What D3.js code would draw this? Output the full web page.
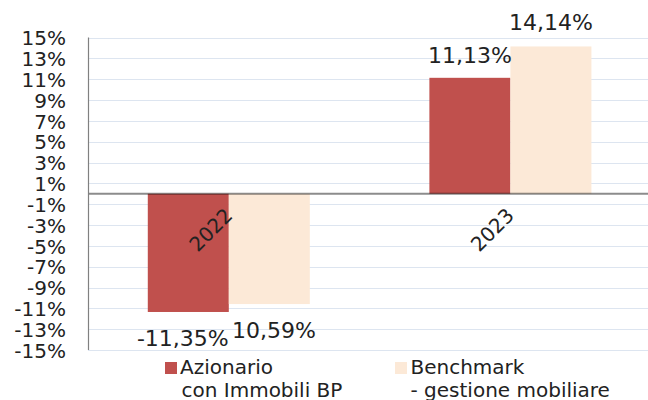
<!DOCTYPE html>
<html><head><meta charset="utf-8">
<script src="https://cdn.jsdelivr.net/npm/d3@7"></script>
<style>body{margin:0;background:#fff}svg{display:block}text{font-family:"DejaVu Sans",Verdana,sans-serif;fill:#222}</style>
</head><body><svg id="c" width="648" height="400"></svg>
<script>
const categories = ["2022", "2023"];
const seriesNames = ["Azionario\ncon Immobili BP", "Benchmark\n- gestione mobiliare"];
const azionario = [-11.35, 11.13];
const benchmark = [-10.59, 14.14];
const tickValues = [-15,-13,-11,-9,-7,-5,-3,-1,1,3,5,7,9,11,13,15];
const colors = ["#C0504D", "#FCE9D7"];

const svg = d3.select("#c");
const x0 = 88, x1 = 651.2, yTop = 37.5, yBot = 350;
const y = d3.scaleLinear().domain([-15, 15]).range([yBot, yTop]);
const xb = d3.scaleBand().domain(categories).range([x0, x1]).paddingInner(0).paddingOuter(0);
const xs = d3.scaleBand().domain([0,1]).range([0, xb.bandwidth()]).paddingOuter(0.738).paddingInner(0);

// gridlines
svg.append("g").selectAll("line").data(tickValues).join("line")
  .attr("x1", x0).attr("x2", 648).attr("y1", d => Math.round(y(d)) + 0.5).attr("y2", d => Math.round(y(d)) + 0.5)
  .attr("stroke", "#dde5f0").attr("stroke-width", 1);

// y axis labels
const yAxis = d3.axisLeft(y).tickValues(tickValues).tickSize(0).tickPadding(0).tickFormat(d => d + "%");
const ga = svg.append("g").attr("transform", `translate(66,0)`).call(yAxis);
ga.select(".domain").remove();
ga.selectAll("text").attr("font-size", 20).attr("dy", "0.36em").style("font-family", '"DejaVu Sans",Verdana,sans-serif').attr("fill", "#222");

// bars
const series = [azionario, benchmark];
series.forEach((vals, si) => {
  svg.append("g").selectAll("rect").data(categories).join("rect")
    .attr("x", (c) => xb(c) + xs(si))
    .attr("width", xs.bandwidth())
    .attr("y", (c, i) => y(Math.max(0, vals[i])))
    .attr("height", (c, i) => Math.abs(y(vals[i]) - y(0)))
    .attr("fill", colors[si]);
});

// zero line + y axis line
svg.append("line").attr("x1", x0).attr("x2", 648).attr("y1", y(0)).attr("y2", y(0))
  .attr("stroke", "#000").attr("stroke-opacity", 0.45).attr("stroke-width", 2);
svg.append("line").attr("x1", x0 + 0.5).attr("x2", x0 + 0.5).attr("y1", yTop).attr("y2", yBot)
  .attr("stroke", "#808080").attr("stroke-width", 1.2);

// category labels rotated
svg.append("g").selectAll("text").data(categories).join("text")
  .attr("transform", c => `translate(${xb(c) + xb.bandwidth()/2 - 18},${y(0) + 36}) rotate(-45)`)
  .attr("text-anchor", "middle").attr("dy", "0.35em").attr("font-size", 20).text(c => c);

// value labels
const fmt = v => (v < 0 ? "-" : "") + d3.format(".2f")(Math.abs(v)).replace(".", ",") + "%";
const bc = (ci, si) => xb(categories[ci]) + xs(si) + xs.bandwidth() / 2;
const labels = [
  {t: fmt(azionario[1]), x: bc(1, 0), y: y(azionario[1]) - 15},
  {t: fmt(benchmark[1]), x: bc(1, 1), y: y(benchmark[1]) - 16},
  {t: fmt(azionario[0]), x: bc(0, 0) - 5.5, y: y(azionario[0]) + 34},
  {t: fmt(Math.abs(benchmark[0])), x: bc(0, 1) + 4.7, y: y(benchmark[0]) + 34}
];
svg.append("g").selectAll("text").data(labels).join("text")
  .attr("x", d => d.x).attr("y", d => d.y).attr("text-anchor", "middle").attr("font-size", 22).text(d => d.t);

// legend
const leg = [{x: 165, tx: 180}, {x: 395, tx: 410.5}];
seriesNames.forEach((n, i) => {
  svg.append("rect").attr("x", leg[i].x).attr("y", 362).attr("width", 12).attr("height", 12).attr("fill", colors[i]);
  const t = svg.append("text").attr("x", leg[i].tx).attr("y", 374).attr("font-size", 20);
  n.split("\n").forEach((line, k) => {
    t.append("tspan").attr("x", leg[i].tx + (k && i === 0 ? 1.5 : 0)).attr("dy", k ? 22.7 : 0).text(line);
  });
});
</script></body></html>
